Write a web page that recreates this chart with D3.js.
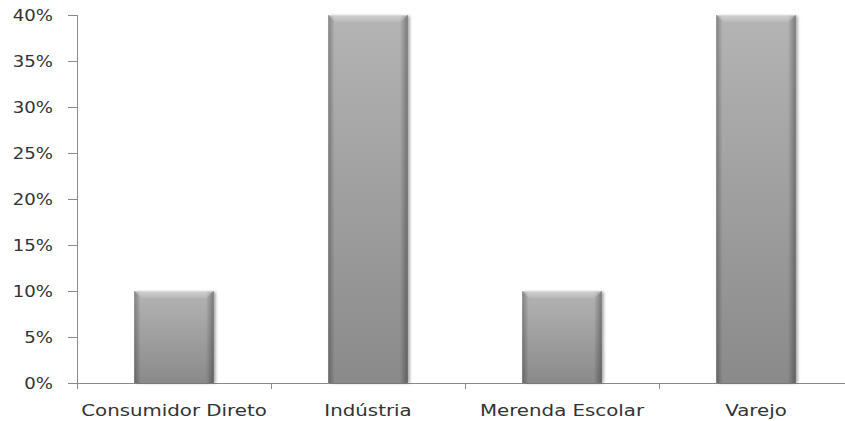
<!DOCTYPE html>
<html>
<head>
<meta charset="utf-8">
<script src="https://cdn.jsdelivr.net/npm/d3@7"></script>
<style>
  html, body { margin: 0; padding: 0; background: #fff; }
  svg { display: block; }
  text { font-family: "DejaVu Sans", Verdana, sans-serif; fill: #333; }
</style>
</head>
<body>
<svg id="chart" width="845" height="421"></svg>
<script>
const categories = ["Consumidor Direto", "Indústria", "Merenda Escolar", "Varejo"];
const values = [0.10, 0.40, 0.10, 0.40];
const yTicks = [0, 0.05, 0.10, 0.15, 0.20, 0.25, 0.30, 0.35, 0.40];

(function () {
const W = 845, H = 421;
const mLeft = 77, mRight = 853, mTop = 15, mBottom = 383;
const stretchX = 1.32, stretchY = 1.21;

const svg = d3.select("#chart");
const defs = svg.append("defs");

const vg = defs.append("linearGradient").attr("id", "vgrad")
  .attr("x1", 0).attr("y1", 0).attr("x2", 0).attr("y2", 1);
vg.append("stop").attr("offset", "0%").attr("stop-color", "#b4b4b4");
vg.append("stop").attr("offset", "100%").attr("stop-color", "#8a8a8a");

const hg = defs.append("linearGradient").attr("id", "hgrad")
  .attr("x1", 0).attr("y1", 0).attr("x2", 1).attr("y2", 0);
hg.append("stop").attr("offset", "0%").attr("stop-color", "#000").attr("stop-opacity", 0.28);
hg.append("stop").attr("offset", "8%").attr("stop-color", "#000").attr("stop-opacity", 0.0);
hg.append("stop").attr("offset", "90%").attr("stop-color", "#000").attr("stop-opacity", 0.0);
hg.append("stop").attr("offset", "100%").attr("stop-color", "#000").attr("stop-opacity", 0.32);

const tg = defs.append("linearGradient").attr("id", "tgrad")
  .attr("x1", 0).attr("y1", 0).attr("x2", 0).attr("y2", 1);
tg.append("stop").attr("offset", "0%").attr("stop-color", "#fff").attr("stop-opacity", 0.4);
tg.append("stop").attr("offset", "100%").attr("stop-color", "#fff").attr("stop-opacity", 0.08);

const blur = defs.append("filter").attr("id", "shadow")
  .attr("x", "-20%").attr("y", "-5%").attr("width", "140%").attr("height", "110%");
blur.append("feGaussianBlur").attr("stdDeviation", 1.5);

const x = d3.scaleBand().domain(categories).range([mLeft, mRight]).padding(0);
const y = d3.scaleLinear().domain([0, 0.4]).range([mBottom, mTop]);
const barFrac = 0.41;

// Y axis
const yAxis = svg.append("g");
yAxis.append("line").attr("x1", mLeft + 0.5).attr("x2", mLeft + 0.5)
  .attr("y1", y(0.4)).attr("y2", y(0) + 5).attr("stroke", "#8a8a8a").attr("stroke-width", 1);
yTicks.forEach(t => {
  const yy = Math.round(y(t)) + 0.5;
  yAxis.append("line").attr("x1", mLeft - 9).attr("x2", mLeft + 0.5)
    .attr("y1", yy).attr("y2", yy).attr("stroke", "#8a8a8a");
  yAxis.append("text")
    .attr("transform", `translate(${mLeft - 24},${y(t) + 6}) scale(${stretchY},1)`)
    .attr("text-anchor", "end").attr("font-size", 15)
    .text(d3.format(".0%")(t));
});

// X axis
const xAxis = svg.append("g");
xAxis.append("line").attr("x1", mLeft).attr("x2", W)
  .attr("y1", mBottom + 0.5).attr("y2", mBottom + 0.5).attr("stroke", "#8a8a8a");
categories.forEach((c, i) => {
  const bx = Math.round(x(c)) + 0.5;
  xAxis.append("line").attr("x1", bx).attr("x2", bx)
    .attr("y1", mBottom).attr("y2", mBottom + 6).attr("stroke", "#8a8a8a");
  xAxis.append("text")
    .attr("transform", `translate(${x(c) + x.bandwidth() / 2},${mBottom + 33}) scale(${stretchX},1)`)
    .attr("text-anchor", "middle").attr("font-size", 15)
    .text(c);
});

// Bars
const bars = svg.append("g");
categories.forEach((c, i) => {
  const bw = x.bandwidth() * barFrac;
  const bx = x(c) + (x.bandwidth() - bw) / 2;
  const by = y(values[i]);
  const bh = y(0) - by;
  const g = bars.append("g");
  g.append("rect").attr("x", bx + 2).attr("y", by + 1).attr("width", bw).attr("height", bh - 1)
    .attr("fill", "#000").attr("opacity", 0.35).attr("filter", "url(#shadow)");
  g.append("rect").attr("x", bx).attr("y", by).attr("width", bw).attr("height", bh)
    .attr("fill", "url(#vgrad)");
  g.append("rect").attr("x", bx).attr("y", by).attr("width", bw).attr("height", bh)
    .attr("fill", "url(#hgrad)");
  const bev = 7;
  g.append("path")
    .attr("d", `M${bx},${by} L${bx + bw},${by} L${bx + bw - bev},${by + bev} L${bx + bev},${by + bev} Z`)
    .attr("fill", "url(#tgrad)");
  g.append("line").attr("x1", bx + 1).attr("x2", bx + bw - 1).attr("y1", by + 0.5).attr("y2", by + 0.5)
    .attr("stroke", "#e0e0e0").attr("stroke-opacity", 0.6);
});
})();
</script>
</body>
</html>
